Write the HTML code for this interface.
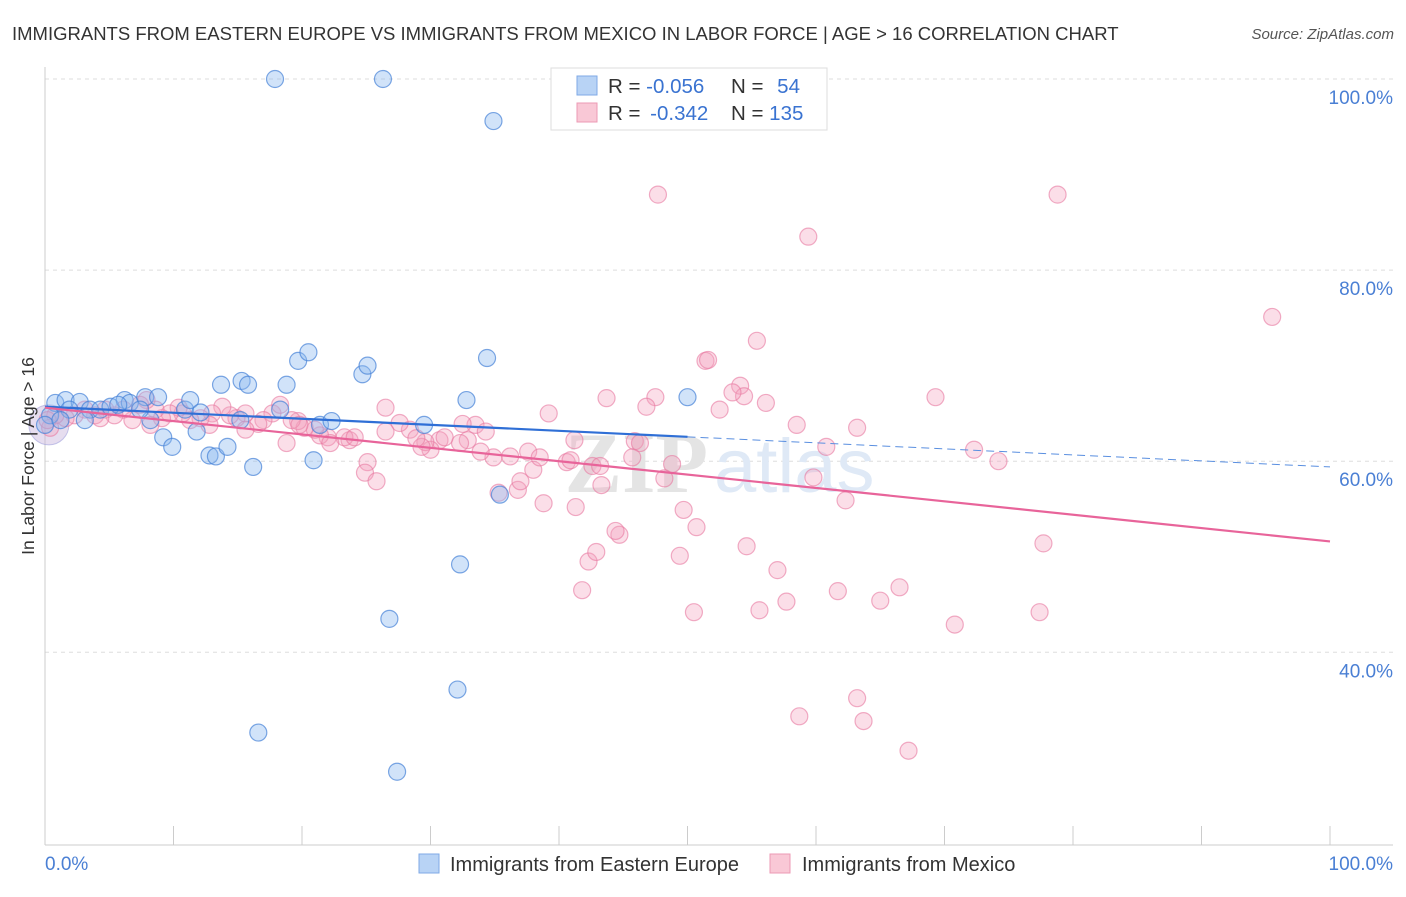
<!DOCTYPE html>
<html><head><meta charset="utf-8"><style>
body{margin:0;background:#fff;font-family:"Liberation Sans",sans-serif}
</style></head><body>
<svg width="1406" height="892" viewBox="0 0 1406 892">
<text x="12" y="40" font-size="18.5" fill="#333">IMMIGRANTS FROM EASTERN EUROPE VS IMMIGRANTS FROM MEXICO IN LABOR FORCE | AGE &gt; 16 CORRELATION CHART</text>
<text x="1394" y="39" font-size="15" fill="#555" font-style="italic" text-anchor="end">Source: ZipAtlas.com</text>
<g id="grid"></g>
<text x="708" y="492" font-size="86" fill="#e4e4e4" font-weight="bold" text-anchor="end" font-family="Liberation Serif">ZIP</text>
<text x="714" y="492" font-size="76" fill="#dfe9f6">atlas</text>
<g id="pts"></g>
<g id="lines"></g>
<text transform="translate(34,456) rotate(-90)" font-size="17.5" fill="#333" text-anchor="middle">In Labor Force | Age &gt; 16</text>
<text x="45" y="870" font-size="19" fill="#4a7fd4">0.0%</text>
<text x="1393" y="870" font-size="19" fill="#4a7fd4" text-anchor="end">100.0%</text>
<g>
<rect x="551" y="68" width="276" height="62" fill="#fff" stroke="#ddd"/>
<rect x="577" y="76" width="20" height="19" fill="#b8d3f5" stroke="#7fa9e6"/>
<rect x="577" y="103" width="20" height="19" fill="#f9c8d6" stroke="#ec9ab4"/>
<text x="608" y="93" font-size="20.5" fill="#333">R = <tspan fill="#3a73d1">-0.056</tspan></text>
<text x="731" y="93" font-size="20.5" fill="#333">N = <tspan fill="#3a73d1" dx="8">54</tspan></text>
<text x="608" y="120" font-size="20.5" fill="#333">R = <tspan fill="#3a73d1" dx="4">-0.342</tspan></text>
<text x="731" y="120" font-size="20.5" fill="#333">N = <tspan fill="#3a73d1">135</tspan></text>
</g>
<g>
<rect x="419" y="854" width="20" height="19" fill="#b8d3f5" stroke="#7fa9e6"/>
<text x="450" y="871" font-size="20" fill="#333">Immigrants from Eastern Europe</text>
<rect x="770" y="854" width="20" height="19" fill="#f9c8d6" stroke="#ec9ab4"/>
<text x="802" y="871" font-size="20" fill="#333">Immigrants from Mexico</text>
</g>
</svg>
<script>
const yTicks=[100,80,60,40];
const yTickLabels=["100.0%","80.0%","60.0%","40.0%"];
const blueX=[17.9,26.3,34.9,0.8,1.6,2.7,1.9,3.5,4.3,5.1,6.2,6.6,7.8,8.8,8.2,9.2,9.9,10.9,11.3,11.8,12.8,13.3,14.2,13.7,15.3,15.8,16.2,18.3,18.8,19.7,20.5,20.9,21.4,22.3,24.7,25.1,29.5,32.8,34.4,35.4,32.3,26.8,32.1,16.6,27.4,50.0,0.4,0,1.2,3.1,5.7,7.4,12.1,15.2];
const blueY=[100,100,95.6,66.1,66.4,66.2,65.4,65.4,65.4,65.7,66.4,66.1,66.7,66.7,64.3,62.5,61.5,65.4,66.4,63.1,60.6,60.5,61.5,68.0,68.4,68.0,59.4,65.4,68.0,70.5,71.4,60.1,63.8,64.2,69.1,70.0,63.8,66.4,70.8,56.5,49.2,43.5,36.1,31.6,27.5,66.7,64.8,63.8,64.3,64.3,65.9,65.4,65.1,64.3];
const pinkX=[47.7,78.8,59.4,95.5,55.4,51.4,51.6,54.1,54.4,53.5,56.1,47.5,46.8,43.7,39.2,52.5,58.5,63.2,69.3,60.8,72.3,74.2,77.7,70.8,77.4,66.5,65.0,61.7,57.7,55.6,57.0,54.6,50.5,49.4,50.7,49.7,48.8,48.2,45.9,46.3,45.7,42.6,43.3,41.3,38.8,36.8,35.3,37.0,37.6,38.0,38.5,40.6,40.9,36.2,34.9,33.9,32.9,32.3,33.5,34.3,32.5,30.7,30.0,29.6,31.1,29.3,28.4,27.6,26.5,25.1,24.9,25.8,23.7,23.3,22.0,21.4,21.0,20.2,19.7,19.2,18.8,17.7,17.0,16.6,15.6,14.9,14.4,13.8,13.0,12.8,12.1,11.3,10.7,10.4,9.7,9.1,8.6,7.9,7.4,6.8,6.1,5.4,4.7,3.9,3.1,2.3,1.6,0.8,0.4,0.2,18.3,26.5,28.9,43.2,42.3,41.8,42.9,44.7,44.4,59.8,62.3,63.2,63.7,67.2,58.7,41.2,8.2,4.3,15.6,19.8,22.2,24.1];
const pinkY=[87.9,87.9,83.5,75.1,72.6,70.5,70.6,67.9,66.8,67.2,66.1,66.7,65.7,66.6,65.0,65.4,63.8,63.5,66.7,61.5,61.2,60.0,51.4,42.9,44.2,46.8,45.4,46.4,45.3,44.4,48.6,51.1,44.2,50.1,53.1,54.9,59.7,58.2,62.1,61.9,60.4,59.5,57.5,55.2,55.6,57.0,56.7,57.9,61.0,59.1,60.4,59.9,60.1,60.5,60.4,61.0,62.2,61.9,63.8,63.1,63.9,62.2,61.2,62.0,62.5,61.5,63.3,64.0,63.1,59.9,58.8,57.9,62.2,62.5,62.5,62.7,63.3,63.5,64.2,64.3,61.9,65.0,64.3,63.9,65.0,64.5,64.8,65.7,65.0,63.8,64.5,64.3,65.0,65.6,65.0,64.5,65.4,66.4,65.9,64.3,65.4,64.8,65.4,64.8,65.4,64.8,64.5,64.8,63.5,64.3,65.9,65.6,62.4,59.5,49.5,46.5,50.5,52.3,52.7,58.3,55.9,35.2,32.8,29.7,33.3,62.2,63.8,64.5,63.3,63.8,61.9,62.5];
const blueTrend=[65.7,59.4];
const pinkTrend=[65.6,51.6];
const NS="http://www.w3.org/2000/svg";
const xs=v=>45+v*12.85;
const ys=v=>79+(100-v)*9.555;
function mk(t,a,p){const e=document.createElementNS(NS,t);for(const k in a)e.setAttribute(k,a[k]);p.appendChild(e);return e;}
const grid=document.getElementById('grid');
yTicks.forEach((t,i)=>{
 const l=mk('line',{x1:45,x2:1393,y1:ys(t),y2:ys(t),stroke:'#ddd','stroke-dasharray':'4,4'},grid);
 
 
 const tx=mk('text',{x:1393,y:ys(t)+25,'font-size':19,fill:'#4a7fd4','text-anchor':'end'},grid);
 tx.textContent=yTickLabels[i];
 
 
});
const ax=mk('line',{x1:45,x2:45,y1:67,y2:845,stroke:'#ccc'},grid);


const bx=mk('line',{x1:45,x2:1393,y1:845,y2:845,stroke:'#ccc'},grid);


for(let i=0;i<=10;i++){
 const tk=mk('line',{x1:xs(i*10),x2:xs(i*10),y1:826,y2:845,stroke:'#ccc'},grid);
 
 
}
const pts=document.getElementById('pts');
const big=mk('circle',{cx:xs(0.3),cy:ys(63.8),r:20,fill:'rgba(200,180,220,0.45)',stroke:'rgba(160,160,220,0.6)'},pts);


pinkX.forEach((x,i)=>{
 const c=mk('circle',{cx:xs(x),cy:ys(pinkY[i]),r:8.5,fill:'rgba(244,160,188,0.35)',stroke:'rgba(232,120,160,0.6)','stroke-width':1.2},pts);
 
 
});
blueX.forEach((x,i)=>{
 const c=mk('circle',{cx:xs(x),cy:ys(blueY[i]),r:8.5,fill:'rgba(140,185,240,0.4)',stroke:'rgba(70,130,215,0.7)','stroke-width':1.2},pts);
 
 
});
const lines=document.getElementById('lines');
const bAt=x=>blueTrend[0]+(blueTrend[1]-blueTrend[0])*x/100;
const b1=mk('line',{x1:xs(0),y1:ys(bAt(0)),x2:xs(50),y2:ys(bAt(50)),stroke:'#2f6fd6','stroke-width':2.2},lines);


const b2=mk('line',{x1:xs(50),y1:ys(bAt(50)),x2:xs(100),y2:ys(bAt(100)),stroke:'#5a8fe0','stroke-width':1,'stroke-dasharray':'8,5'},lines);


const p1=mk('line',{x1:xs(0),y1:ys(pinkTrend[0]),x2:xs(100),y2:ys(pinkTrend[1]),stroke:'#e8649a','stroke-width':2.2},lines);


</script>
</body></html>
